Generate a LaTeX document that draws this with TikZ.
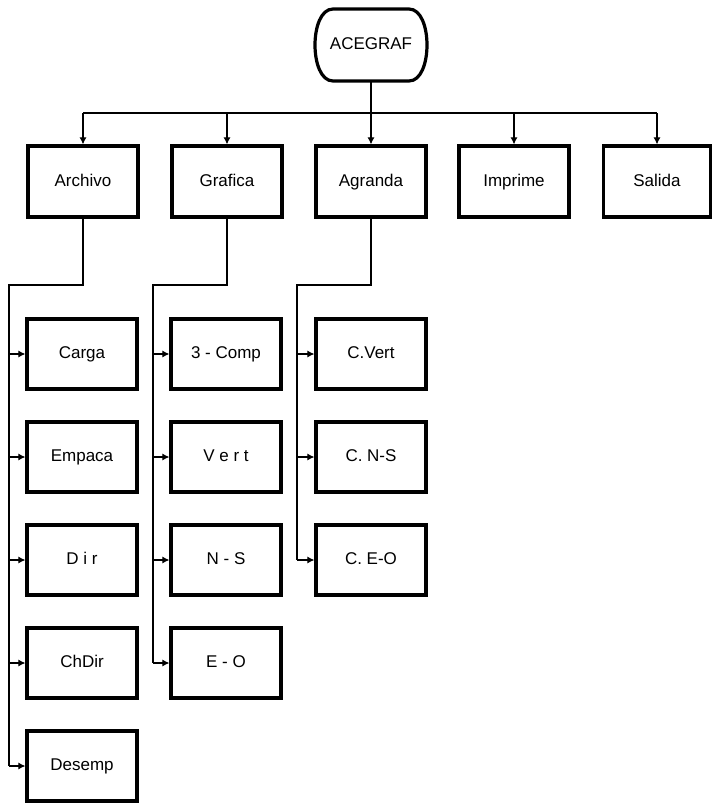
\documentclass[tikz,border=0pt]{standalone}
\usepackage{fontspec}
\setmainfont{Liberation Sans}
\usetikzlibrary{arrows.meta}
\begin{document}
\begin{tikzpicture}[x=1pt,y=-1pt,
  lbl/.style={font=\fontsize{17}{20}\selectfont,text height=12pt,text depth=3pt},
  box/.style={lbl,draw=black,line width=3.2pt,minimum width=110pt,minimum height=70pt,inner sep=0pt},
  rootbox/.style={lbl,draw=none,minimum width=111pt,minimum height=72pt,inner sep=0pt},
  conn/.style={draw=black,line width=1.1pt},
  arr/.style={-{Latex[length=7pt,width=7pt]}}]
\useasboundingbox (0,0) rectangle (712,803);
% root
\node[rootbox] (root) at (371,45) {ACEGRAF};
\draw[line width=3.2pt,shift={(root.center)},x=1pt,y=-1pt]
  (-38,-36) -- (38,-36) .. controls (50,-36) and (56,-18) .. (56,0)
  .. controls (56,18) and (50,36) .. (38,36) -- (-38,36)
  .. controls (-50,36) and (-56,18) .. (-56,0)
  .. controls (-56,-18) and (-50,-36) .. (-38,-36) -- cycle;
% top level
\node[box,minimum height=71pt] (archivo) at (83,181.5) {Archivo};
\node[box,minimum height=71pt] (grafica) at (227,181.5) {Grafica};
\node[box,minimum height=71pt] (agranda) at (371,181.5) {Agranda};
\node[box,minimum height=71pt] (imprime) at (514,181.5) {Imprime};
\node[box,minimum height=71pt,minimum width=107pt] (salida) at (657,181.5) {Salida};
\coordinate (bus) at (371,113);
\draw[conn] (archivo.north |- bus) -- (salida.north |- bus);
\draw[conn,arr] (root.south) -- (agranda.north);
\foreach \n in {archivo,grafica,imprime,salida}
  \draw[conn,arr] (\n.north |- bus) -- (\n.north);
% column 1
\node[box] (carga) at (82,354) {Carga};
\node[box] (empaca) at (82,457) {Empaca};
\node[box] (dir) at (82,560) {D i r};
\node[box] (chdir) at (82,663) {ChDir};
\node[box] (desemp) at (82,766) {Desemp};
\coordinate (k1) at (9,285);
\draw[conn] (archivo.south) |- (k1) -- (k1 |- desemp.west);
\foreach \n in {carga,empaca,dir,chdir,desemp}
  \draw[conn,arr] (k1 |- \n.west) -- (\n.west);
% column 2
\node[box] (comp) at (226,354) {3 - Comp};
\node[box] (vert) at (226,457) {V e r t};
\node[box] (ns) at (226,560) {N - S};
\node[box] (eo) at (226,663) {E - O};
\coordinate (k2) at (153,285);
\draw[conn] (grafica.south) |- (k2) -- (k2 |- eo.west);
\foreach \n in {comp,vert,ns,eo}
  \draw[conn,arr] (k2 |- \n.west) -- (\n.west);
% column 3
\node[box] (cvert) at (371,354) {C.Vert};
\node[box] (cns) at (371,457) {C. N-S};
\node[box] (ceo) at (371,560) {C. E-O};
\coordinate (k3) at (297,285);
\draw[conn] (agranda.south) |- (k3) -- (k3 |- ceo.west);
\foreach \n in {cvert,cns,ceo}
  \draw[conn,arr] (k3 |- \n.west) -- (\n.west);
\end{tikzpicture}
\end{document}
